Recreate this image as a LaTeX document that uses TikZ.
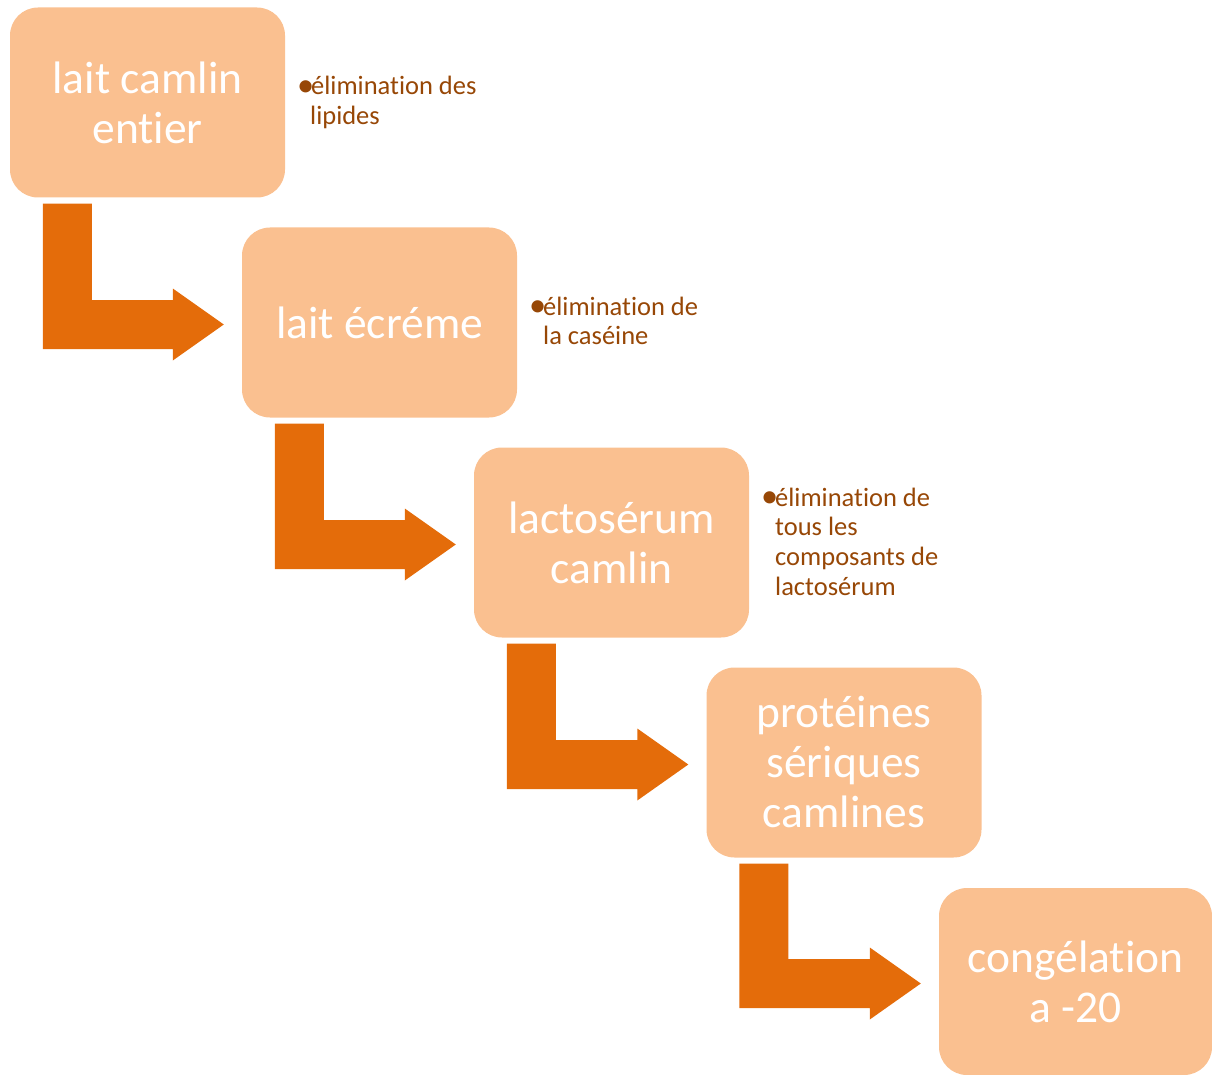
\documentclass[tikz,border=0pt]{standalone}
\usepackage{fontspec}
\setmainfont{Carlito}[RawFeature=-liga]
\usetikzlibrary{calc}
\definecolor{boxfill}{HTML}{FAC090}
\definecolor{arrowfill}{HTML}{E46C0A}
\definecolor{notecol}{HTML}{974706}
\tikzset{
  box/.style={fill=boxfill, draw=none, rounded corners=28pt, minimum width=275pt, minimum height=190pt,
    text=white, align=center, font=\fontsize{45.5}{50}\selectfont, inner sep=0pt},
  note/.style={anchor=base west, text=notecol, font=\fontsize{26.5}{29.7}\selectfont, inner sep=0pt},
  bent/.style={fill=arrowfill, draw=none}
}
\newcommand\bentarrow[2]{%
  \path[bent] let \p1=([shift={(33pt,-6pt)}]#1.south west), \p2=([shift={(-18pt,-2pt)}]#2.west) in
    (\x1,\y1) -- (\x1+49pt,\y1) -- (\x1+49pt,\y2+24.5pt) -- (\x2-51pt,\y2+24.5pt)
    -- (\x2-51pt,\y2+36pt) -- (\x2,\y2) -- (\x2-51pt,\y2-36pt) -- (\x2-51pt,\y2-24.5pt)
    -- (\x1,\y2-24.5pt) -- cycle;}
\newcommand\bul{\makebox[11pt][l]{\hspace*{-3pt}\raisebox{-0.07em}{\scalebox{1.3}{•}}}}
\newcommand\notelines[1]{\begin{tabular}[t]{@{}l@{}}#1\end{tabular}}
\begin{document}
\begin{tikzpicture}[x=1pt,y=-1pt]
\useasboundingbox (0,0) rectangle (1212,1075);
\node[box] (b1) at (147.5,102.5) {lait camlin\\entier};
\node[box] (b2) at (379.5,322.5) {lait écréme};
\node[box] (b3) at (611.5,542.5) {lactosérum\\camlin};
\node[box] (b4) at (844,762.5) {protéines\\sériques\\camlines};
\node[box, minimum width=273pt, minimum height=187pt] (b5) at (1075.5,981.5) {congélation\\a -20};
\bentarrow{b1}{b2}
\bentarrow{b2}{b3}
\bentarrow{b3}{b4}
\bentarrow{b4}{b5}
\node[note] (n1) at (300,95) {\notelines{\bul élimination des\\\hspace*{10pt}lipides}};
\node[note] (n2) at (532,315) {\notelines{\bul élimination de\\\hspace*{11pt}la caséine}};
\node[note] (n3) at (764,506) {\notelines{\bul élimination de\\\hspace*{11pt}tous les\\\hspace*{11pt}composants de\\\hspace*{11pt}lactosérum}};
\end{tikzpicture}
\end{document}
